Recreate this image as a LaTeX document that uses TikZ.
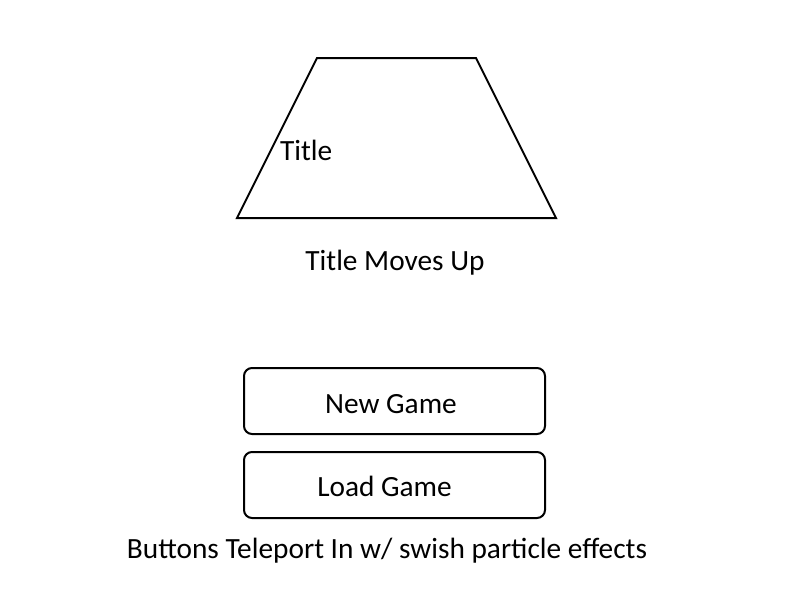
\documentclass[tikz,border=0pt]{standalone}
\usepackage{fontspec}
\setmainfont{Carlito}
\usetikzlibrary{positioning}

\begin{document}
\begin{tikzpicture}[
  x=0.75pt,
  y=-0.75pt,
  line width=1.5pt,
  mytext/.style={
    inner sep=0pt,
    font=\fontsize{22}{26}\selectfont
    },
  mybutton/.style={
    draw,
    rounded corners=6pt,
    minimum width=225.75pt,
    minimum height=49.5pt
    }
]
\useasboundingbox (0,0) rectangle (800,600);
\draw[line join=miter] (317,58) -- (476,58) -- (556,218) -- (237,218) -- cycle;
\node[mytext,anchor=west] (title) at (279,150) {Title};
\node[mytext] (titlemoves) at (395,263) {Title Moves Up};
\node[mybutton] (newgame) at (394.5,401) {};
\node[mytext] (newgametext) at (391,404) {New Game};
\node[mybutton] (loadgame) at (394.5,485) {};
\node[mytext] (loadgametext) at (384.5,486) {Load Game};
\node[mytext] (buttons) at (387,551) {Buttons Teleport In w/ swish particle effects};
\end{tikzpicture}
\end{document}
